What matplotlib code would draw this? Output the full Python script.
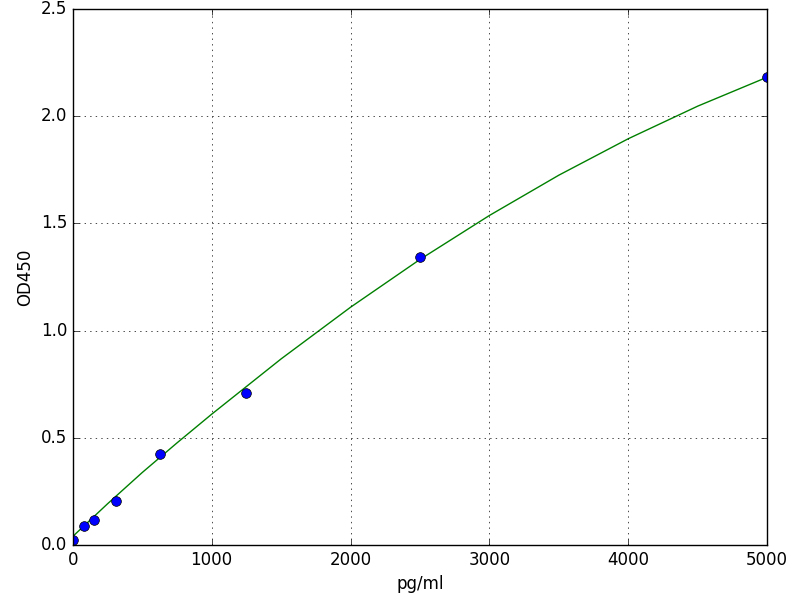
import matplotlib
matplotlib.use("Agg")
import matplotlib.pyplot as plt

# standards (pg/ml) and measured OD450
conc = [0, 78, 156, 312, 625, 1250, 2500, 5000]
od = [0.025, 0.089, 0.118, 0.207, 0.423, 0.708, 1.345, 2.183]

# fitted curve
curve_x = [0, 250, 500, 750, 1000, 1500, 2000, 2500, 3000, 3500, 4000, 4500, 5000]
curve_y = [0.04, 0.192, 0.338, 0.476, 0.61, 0.868, 1.109, 1.332, 1.537, 1.725, 1.895, 2.047, 2.182]

plt.style.use('classic')
fig = plt.figure(figsize=(8, 6), dpi=100, facecolor='white')
ax = fig.add_axes([0.091, 0.0917, 0.868, 0.8933])

ax.plot(curve_x, curve_y, 'g-')
ax.plot(conc, od, 'bo', markersize=7)

ax.set_xlim(0, 5000)
ax.set_ylim(0, 2.5)
ax.set_xticks([0, 1000, 2000, 3000, 4000, 5000])
ax.set_yticks([0.0, 0.5, 1.0, 1.5, 2.0, 2.5])
ax.grid(True)
ax.set_xlabel('pg/ml')
ax.set_ylabel('OD450')

fig.savefig('out.png', dpi=100, facecolor='white')
